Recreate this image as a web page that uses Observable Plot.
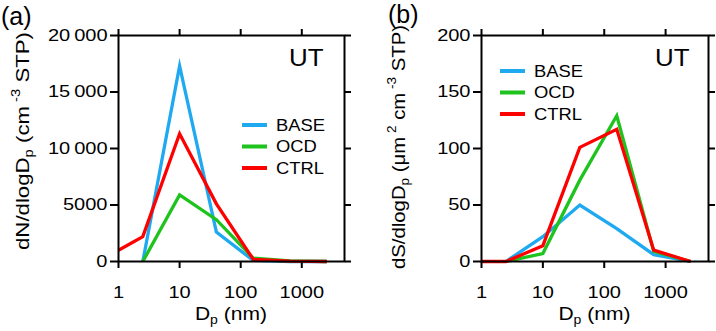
<!DOCTYPE html>
<html><head><meta charset="utf-8">
<script src="https://cdn.jsdelivr.net/npm/d3@7"></script>
<script src="https://cdn.jsdelivr.net/npm/@observablehq/plot@0.6"></script>
<style>
body{margin:0;background:#fff;}
#wrap{display:flex;width:716px;height:331px;}
svg text{font-family:"Liberation Sans",Arial,sans-serif;}
</style></head><body><div id="wrap"></div>
<script>
// ---- data ----
const dp = [1, 2.5, 10, 40, 160, 640, 2560];
const seriesNames = ["BASE", "OCD", "CTRL"];
const seriesColors = ["#1ea9f0", "#1ec31e", "#ff0000"];
const nBase = [null, 0, 17300, 2600, 100, 0, 0];
const nOcd  = [null, 0, 5900, 3700, 300, 50, 0];
const nCtrl = [1000, 2200, 11300, 5100, 200, 30, 0];
const sBase = [null, 0, 22, 50, 29, 6, 0];
const sOcd  = [null, 0, 7, 72, 129, 9, 0];
const sCtrl = [0, 0, 14, 101, 117, 10, 0];
const xTicks = [1, 10, 100, 1000];
const nTicks = [0, 5000, 10000, 15000, 20000];
const sTicks = [0, 50, 100, 150, 200];

function rows(seriesArrays) {
  const out = [];
  seriesArrays.forEach((arr, i) => arr.forEach((v, j) => {
    if (v != null) out.push({dp: dp[j], v, s: seriesNames[i]});
  }));
  return out;
}

// widen glyphs horizontally around each text's own anchor point
function stretch(sel, f) {
  sel.each(function () {
    const x = parseFloat(this.getAttribute("x")) || 0;
    const t = this.getAttribute("transform") || "";
    this.setAttribute("transform", `${t} translate(${x},0) scale(${f},1) translate(${-x},0)`);
  });
}

function makePanel(cfg) {
  const svg = Plot.plot({
    width: 358, height: 331,
    marginLeft: cfg.ml, marginRight: cfg.mr, marginTop: 35, marginBottom: 70,
    style: {fontFamily: "Liberation Sans, Arial, sans-serif", fontSize: "16px", background: "white", overflow: "visible", color: "black"},
    x: {type: "log", domain: [1, 5000], label: null},
    y: {domain: cfg.ydomain, label: null},
    color: {domain: seriesNames, range: seriesColors},
    marks: [
      Plot.line(rows(cfg.data), {x: "dp", y: "v", z: "s", stroke: "s", strokeWidth: 3.3,
        strokeLinejoin: "miter", strokeMiterlimit: 10, strokeLinecap: "butt"}),
      Plot.axisX({anchor: "bottom", ticks: xTicks, tickSize: 7, tickPadding: 18, strokeWidth: 2, label: null, tickFormat: d => String(d)}),
      Plot.axisX({anchor: "top", ticks: xTicks, tickSize: 7, strokeWidth: 2, label: null, tickFormat: () => ""}),
      Plot.axisY({anchor: "left", ticks: cfg.yticks, tickSize: 8, tickPadding: 3, strokeWidth: 2, label: null, tickFormat: cfg.yfmt}),
      Plot.axisY({anchor: "right", ticks: cfg.yticks, tickSize: 6, strokeWidth: 2, label: null, tickFormat: () => ""}),
      Plot.frame({stroke: "black", strokeWidth: 2}),
      Plot.text(["UT"], {text: d => d, frameAnchor: "top-right", dx: cfg.utdx, dy: 13, fontSize: 24})
    ]
  });
  document.getElementById("wrap").appendChild(svg);
  const s = d3.select(svg);
  stretch(s.selectAll('g[aria-label="x-axis tick label"] text, g[aria-label="y-axis tick label"] text'), 1.25);
  stretch(s.selectAll('g[aria-label="text"] text'), 1.08);

  const g = s.append("g").attr("font-family", "Liberation Sans, Arial, sans-serif")
    .attr("fill", "black").attr("text-anchor", "start");
  // panel letter
  g.append("text").attr("x", cfg.px).attr("y", cfg.py).attr("font-size", 25).text(cfg.panel);
  // legend
  const leg = g.append("g");
  seriesNames.forEach((name, i) => {
    const y = cfg.ly + i * 21.5;
    leg.append("line").attr("x1", cfg.lx).attr("x2", cfg.lx + 25).attr("y1", y).attr("y2", y)
      .attr("stroke", seriesColors[i]).attr("stroke-width", 4);
    leg.append("text").attr("x", cfg.lx + 34).attr("y", y).attr("dy", "0.36em").attr("font-size", 16).text(name);
  });
  stretch(leg.selectAll("text"), 1.15);
  // y label
  const yl = g.append("text").attr("transform", `translate(${cfg.ylx},${cfg.yly}) rotate(-90)`)
    .attr("text-anchor", "middle").attr("font-size", 18);
  cfg.ylabel(yl);
  yl.attr("textLength", cfg.yllen).attr("lengthAdjust", "spacingAndGlyphs");
  // x label
  const xl = g.append("text").attr("x", cfg.xlx).attr("y", 320).attr("text-anchor", "middle").attr("font-size", 18);
  xl.append("tspan").text("D");
  xl.append("tspan").attr("font-size", 12).attr("dy", 4).text("p");
  xl.append("tspan").attr("dy", -4).text(" (nm)");
  stretch(xl, 1.17);
}

const fmtN = d => d >= 10000 ? d3.format(",")(d).replace(/,/g, "\u2009") : String(d);

makePanel({
  panel: "(a)", px: 1, py: 25,
  ml: 118, mr: 14, ydomain: [0, 20000], yticks: nTicks, yfmt: fmtN,
  data: [nBase, nOcd, nCtrl], utdx: -21,
  lx: 242, ly: 125,
  ylx: 28.5, yly: 141, yllen: 218, xlx: 231,
  ylabel: t => {
    t.append("tspan").text("dN/dlogD");
    t.append("tspan").attr("font-size", 12).attr("dy", 4).text("p");
    t.append("tspan").attr("dy", -4).text(" (cm");
    t.append("tspan").attr("font-size", 12).attr("dy", -9).text(" -3");
    t.append("tspan").attr("dy", 9).text(" STP)");
  }
});
makePanel({
  panel: "(b)", px: 30, py: 23,
  ml: 123, mr: 8, ydomain: [0, 200], yticks: sTicks, yfmt: d => String(d),
  data: [sBase, sOcd, sCtrl], utdx: -19,
  lx: 142, ly: 71,
  ylx: 47, yly: 147, yllen: 244, xlx: 236.5,
  ylabel: t => {
    t.append("tspan").text("dS/dlogD");
    t.append("tspan").attr("font-size", 12).attr("dy", 4).text("p");
    t.append("tspan").attr("dy", -4).text(" (\u03bcm");
    t.append("tspan").attr("font-size", 12).attr("dy", -9).text(" 2");
    t.append("tspan").attr("dy", 9).text(" cm");
    t.append("tspan").attr("font-size", 12).attr("dy", -9).text(" -3");
    t.append("tspan").attr("dy", 9).text(" STP)");
  }
});
</script></body></html>
